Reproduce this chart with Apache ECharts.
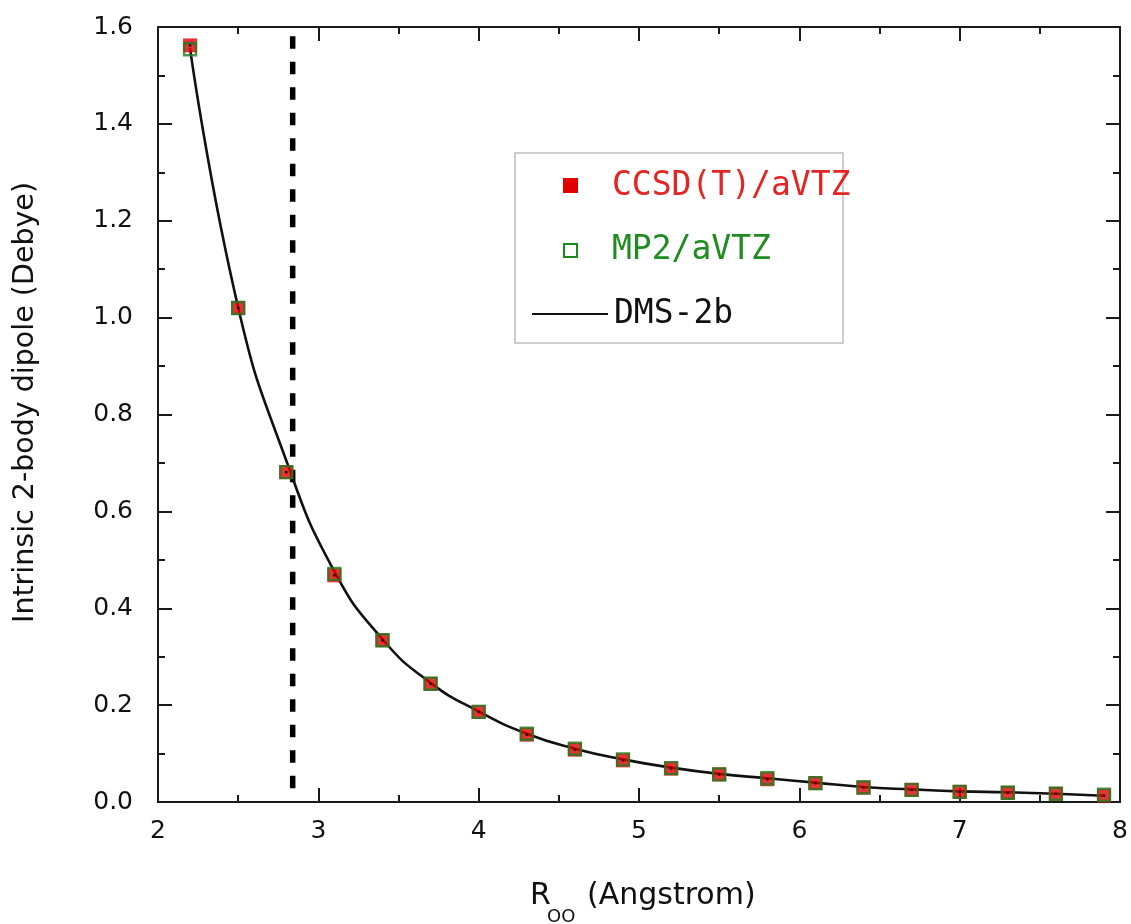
<!DOCTYPE html>
<html>
<head>
<meta charset="utf-8">
<script src="https://cdn.jsdelivr.net/npm/echarts@6/dist/echarts.min.js"></script>
<style>
  html, body { margin: 0; padding: 0; background: #fff; }
  #chart { width: 1131px; height: 924px; }
</style>
</head>
<body>
<div id="chart"></div>
<script>
// O–O separation (Angstrom) of the sampled dimer geometries
const rOO = [2.2, 2.5, 2.8, 3.1, 3.4, 3.7, 4.0, 4.3, 4.6, 4.9, 5.2, 5.5, 5.8, 6.1, 6.4, 6.7, 7.0, 7.3, 7.6, 7.9];
// intrinsic 2-body dipole (Debye)
const ccsdDipole = [1.562, 1.020, 0.681, 0.468, 0.334, 0.244, 0.186, 0.139, 0.108, 0.086, 0.069, 0.057, 0.047, 0.039, 0.030, 0.025, 0.021, 0.019, 0.017, 0.013];
const mp2Dipole  = [1.554, 1.020, 0.681, 0.471, 0.334, 0.244, 0.186, 0.141, 0.110, 0.088, 0.070, 0.057, 0.049, 0.039, 0.030, 0.025, 0.021, 0.019, 0.017, 0.015];
const dmsDipole  = [1.556, 1.021, 0.705, 0.476, 0.336, 0.246, 0.187, 0.141, 0.110, 0.088, 0.071, 0.058, 0.049, 0.040, 0.031, 0.026, 0.022, 0.020, 0.017, 0.013];
// equilibrium O–O distance marker
const rEquilibrium = 2.84;
const markerSpan = [1.581, 0.006];

const xTicks = { min: 2, max: 8, step: 1 };
const yTicks = { min: 0, max: 1.6, step: 0.2 };

const pairs = (xs, ys) => xs.map((x, i) => [x, ys[i]]);

const ink = '#1a1a1a';
const tickStyle = { color: ink, width: 2 };

function frameAxis(kind, pos, showLabels, extra) {
  const t = kind === 'x' ? xTicks : yTicks;
  return Object.assign({
    type: 'value',
    position: pos,
    min: t.min, max: t.max, interval: t.step,
    axisLine: { show: true, onZero: false, lineStyle: { color: ink, width: 2 } },
    axisTick: { show: true, inside: true, length: 14, lineStyle: tickStyle },
    minorTick: { show: true, splitNumber: 2, length: 7, lineStyle: tickStyle },
    splitLine: { show: false },
    minorSplitLine: { show: false },
    axisLabel: {
      show: showLabels,
      fontFamily: 'DejaVu Sans', fontSize: 25, color: '#111',
      margin: kind === 'x' ? 17 : 25,
      formatter: kind === 'x' ? (v) => String(v) : (v) => v.toFixed(1)
    }
  }, extra || {});
}

const chart = echarts.init(document.getElementById('chart'), null, { renderer: 'canvas' });

const legendFont = '33px "DejaVu Sans Mono"';

chart.setOption({
  animation: false,
  backgroundColor: '#fff',
  grid: { left: 158, right: 8, top: 27, bottom: 122, containLabel: false },
  xAxis: [
    frameAxis('x', 'bottom', true),
    frameAxis('x', 'top', false)
  ],
  yAxis: [
    frameAxis('y', 'left', true, {
      name: 'Intrinsic 2-body dipole (Debye)',
      nameLocation: 'middle',
      nameGap: 118,
      nameTextStyle: { fontFamily: 'DejaVu Sans', fontSize: 28.5, color: '#111', padding: [0, 0, 0, 24] }
    }),
    frameAxis('y', 'right', false)
  ],
  graphic: [
    // legend box
    { type: 'rect', shape: { x: 515, y: 153, width: 328, height: 190 },
      style: { fill: '#fff', stroke: '#bdbdbd', lineWidth: 1.5 }, z: 10 },
    { type: 'rect', shape: { x: 563, y: 178, width: 15, height: 15 },
      style: { fill: '#e00000' }, z: 11 },
    { type: 'text', x: 612, y: 186, z: 11,
      style: { text: 'CCSD(T)/aVTZ', font: legendFont, fill: '#e52424', verticalAlign: 'middle' } },
    { type: 'rect', shape: { x: 564, y: 244, width: 13, height: 13 },
      style: { fill: 'none', stroke: '#1a8a1a', lineWidth: 2 }, z: 11 },
    { type: 'text', x: 612, y: 250, z: 11,
      style: { text: 'MP2/aVTZ', font: legendFont, fill: '#1e8c1e', verticalAlign: 'middle' } },
    { type: 'line', shape: { x1: 532, y1: 314, x2: 608, y2: 314 },
      style: { stroke: '#111', lineWidth: 2 }, z: 11 },
    { type: 'text', x: 614, y: 314, z: 11,
      style: { text: 'DMS-2b', font: legendFont, fill: '#111', verticalAlign: 'middle' } },
    // x-axis title with subscript
    { type: 'text', x: 530, y: 896, z: 11,
      style: { text: 'R', font: '30px "DejaVu Sans"', fill: '#111', verticalAlign: 'middle' } },
    { type: 'text', x: 547, y: 917, z: 11,
      style: { text: 'OO', font: '18px "DejaVu Sans"', fill: '#111', verticalAlign: 'middle' } },
    { type: 'text', x: 587, y: 896, z: 11,
      style: { text: '(Angstrom)', font: '30px "DejaVu Sans"', fill: '#111', verticalAlign: 'middle' } }
  ],
  series: [
    {
      name: 'DMS-2b',
      type: 'line',
      data: pairs(rOO, dmsDipole),
      smooth: 0.5,
      showSymbol: false,
      symbol: 'none',
      lineStyle: { color: '#111', width: 2.6 },
      silent: true,
      z: 2
    },
    {
      name: 'r_eq',
      type: 'line',
      data: [[rEquilibrium, markerSpan[0]], [rEquilibrium, markerSpan[1]]],
      symbol: 'none',
      lineStyle: { color: '#000', width: 5.5, type: [12.5, 13], cap: 'butt' },
      silent: true,
      z: 3
    },
    {
      name: 'CCSD(T)/aVTZ',
      type: 'scatter',
      data: pairs(rOO, ccsdDipole),
      symbol: 'rect',
      symbolSize: 14,
      itemStyle: { color: '#e00000' },
      z: 4
    },
    {
      name: 'MP2/aVTZ',
      type: 'scatter',
      data: pairs(rOO, mp2Dipole),
      symbol: 'rect',
      symbolSize: 12,
      itemStyle: { color: 'rgba(0,0,0,0)', borderColor: '#1f7a1f', borderWidth: 2.4 },
      z: 5
    },
    {
      name: 'centre',
      type: 'scatter',
      data: pairs(rOO, ccsdDipole),
      symbol: 'rect',
      symbolSize: 2.5,
      itemStyle: { color: '#000' },
      silent: true,
      z: 6
    }
  ]
});
</script>
</body>
</html>
